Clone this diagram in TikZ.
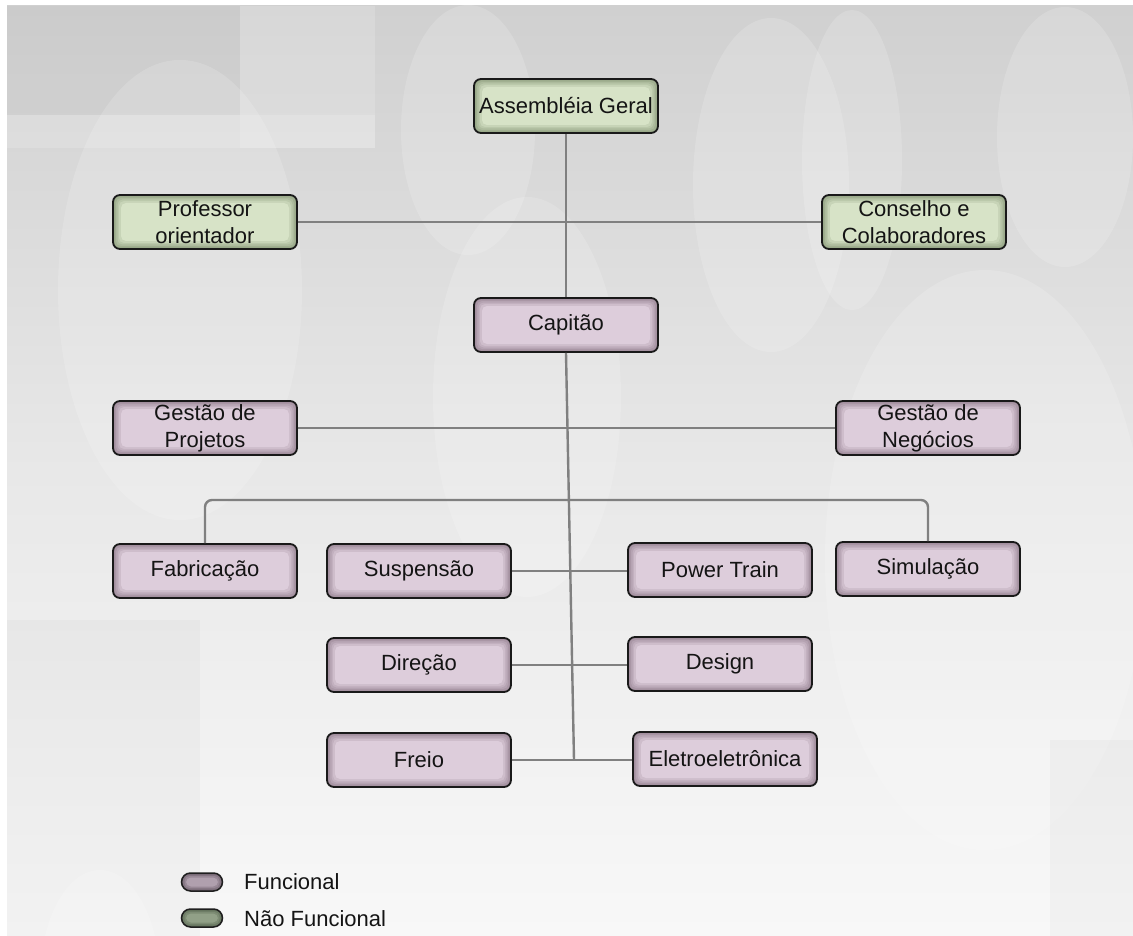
\documentclass[tikz,border=0pt]{standalone}
\usepackage{fontspec}
\setmainfont{Liberation Sans}
\definecolor{pedge}{RGB}{160,140,156}
\definecolor{pmid}{RGB}{221,205,219}
\definecolor{gedge}{RGB}{150,166,134}
\definecolor{gmid}{RGB}{215,227,199}
\definecolor{lpedge}{RGB}{115,100,113}
\definecolor{lpmid}{RGB}{176,160,174}
\definecolor{lgedge}{RGB}{95,110,88}
\definecolor{lgmid}{RGB}{145,160,135}
\definecolor{conn}{RGB}{128,128,128}
\newcommand\glowfill[2]{\foreach \i/\c in {1.5/15,3/35,4.5/55,6/75,8/100}{\fill[#2!\c!#1, rounded corners=5pt] ([shift={(\i pt,-\i pt)}]path picture bounding box.north west) rectangle ([shift={(-\i pt,\i pt)}]path picture bounding box.south east);}}
\newcommand\pillglow[2]{\foreach \i/\c in {1.5/30,3/60,4.5/100}{\fill[#2!\c!#1, rounded corners=5pt] ([shift={(\i pt,-\i pt)}]path picture bounding box.north west) rectangle ([shift={(-\i pt,\i pt)}]path picture bounding box.south east);}}
\tikzset{
  orgbox/.style={draw=black!90, line width=1.8pt, rounded corners=7pt, minimum width=184pt, minimum height=54pt, align=center, text=black!92, font=\fontsize{22}{27}\selectfont, inner sep=2pt},
  purp/.style={orgbox, fill=pedge, path picture={\glowfill{pedge}{pmid}}},
  gren/.style={orgbox, fill=gedge, path picture={\glowfill{gedge}{gmid}}},
  pill/.style={draw=black!88, line width=1.5pt, rounded corners=9pt, minimum width=41pt, minimum height=18pt, inner sep=0pt},
  lpurp/.style={pill, fill=lpedge, path picture={\pillglow{lpedge}{lpmid}}},
  lgren/.style={pill, fill=lgedge, path picture={\pillglow{lgedge}{lgmid}}},
  legtext/.style={anchor=west, inner sep=0pt, text=black!92, font=\fontsize{22}{26}\selectfont},
  link/.style={draw=conn, line width=2.4pt},
  deco/.style={fill=white, opacity=0.16},
  decod/.style={fill=black, opacity=0.025}
}
\begin{document}
\begin{tikzpicture}[x=1pt,y=-1pt]
\useasboundingbox (0,0) rectangle (1133,936);
\fill[white] (0,0) rectangle (1133,936);
% background
\shade[top color={rgb,255:red,208;green,208;blue,208}, bottom color={rgb,255:red,248;green,248;blue,248}, middle color={rgb,255:red,232;green,232;blue,232}] (7,6) rectangle (1133,936);
\begin{scope}
\clip (7,6) rectangle (1133,936);
\fill[decod] (7,6) rectangle (240,115);
\fill[deco] (240,6) rectangle (375,148);
\fill[deco] (7,115) rectangle (375,148);
\fill[deco] (180,290) ellipse [x radius=122, y radius=230];
\fill[deco] (468,130) ellipse [x radius=67, y radius=125];
\fill[deco] (527,397) ellipse [x radius=94, y radius=200];
\fill[deco] (771,185) ellipse [x radius=78, y radius=167];
\fill[deco] (852,160) ellipse [x radius=50, y radius=150];
\fill[deco] (1065,137) ellipse [x radius=68, y radius=130];
\fill[deco] (985,560) ellipse [x radius=160, y radius=290];
\fill[decod] (7,620) rectangle (200,936);
\fill[decod] (1050,740) rectangle (1133,936);
\fill[deco] (100,980) ellipse [x radius=60, y radius=110];
\end{scope}
% nodes
\node[gren] (ag) at (566,106) {Assembléia Geral};
\node[gren] (po) at (205,222) {Professor\\orientador};
\node[gren] (cc) at (914,222) {Conselho e\\Colaboradores};
\node[purp] (cap) at (566,325) {Capitão};
\node[purp] (gp) at (205,428) {Gestão de\\Projetos};
\node[purp] (gn) at (928,428) {Gestão de\\Negócios};
\node[purp] (fab) at (205,571) {Fabricação};
\node[purp] (sus) at (419,571) {Suspensão};
\node[purp] (pt) at (720,570) {Power Train};
\node[purp] (sim) at (928,569) {Simulação};
\node[purp] (dir) at (419,665) {Direção};
\node[purp] (des) at (720,664) {Design};
\node[purp] (fre) at (419,760) {Freio};
\node[purp] (ele) at (725,759) {Eletroeletrônica};
\coordinate (bot) at (574,760);
\coordinate (brl) at (205,500);
\coordinate (brr) at (928,500);
% connectors
\path[link] (ag.south) -- (cap.north);
\path[link] (po.east) -- (cc.west);
\path[link] (cap.south) -- (bot);
\path[link] (gp.east) -- (gn.west);
\path[link, rounded corners=7pt] (fab.north) -- (brl) -- (brr) -- (sim.north);
\path[link] (sus.east) -- (sus.east -| pt.west);
\path[link] (dir.east) -- (dir.east -| des.west);
\path[link] (fre.east) -- (fre.east -| ele.west);
% legend
\node[lpurp] (lf) at (202,882) {};
\node[lgren] (lnf) at (202,918) {};
\node[legtext] (tf) at (244,882) {Funcional};
\node[legtext] (tnf) at (244,919) {Não Funcional};
\end{tikzpicture}
\end{document}
